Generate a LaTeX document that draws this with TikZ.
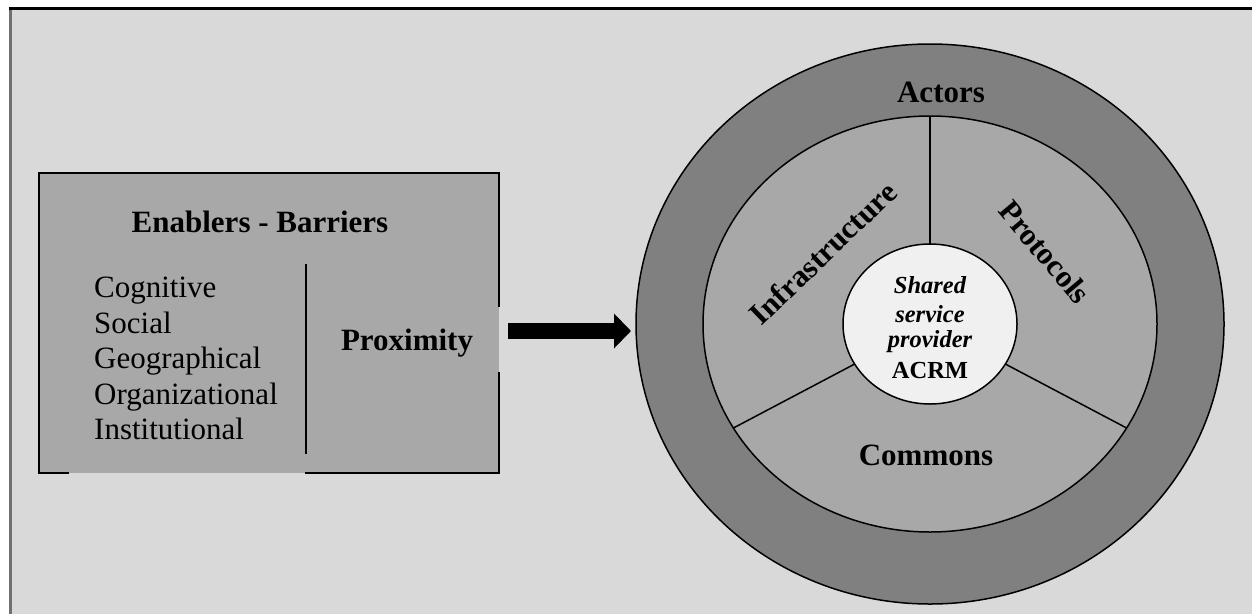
\documentclass[tikz,border=0pt]{standalone}
\usepackage{fontspec}
\setmainfont{Liberation Serif}
\usetikzlibrary{arrows.meta,shapes.geometric}
\definecolor{bgc}{HTML}{D9D9D9}
\definecolor{boxc}{HTML}{A8A8A8}
\definecolor{ringc}{HTML}{808080}
\definecolor{sectc}{HTML}{A8A8A8}
\definecolor{corec}{HTML}{F0F0F0}
\definecolor{edgec}{HTML}{707070}
\begin{document}
\begin{tikzpicture}[x=1pt,y=-1pt,
  lbl/.style={inner sep=0pt, font=\fontsize{31}{36}\selectfont},
  blbl/.style={inner sep=0pt, font=\fontsize{31}{36}\selectfont\bfseries},
  clbl/.style={inner sep=0pt, font=\fontsize{24.5}{28}\selectfont\bfseries},
  cilbl/.style={inner sep=0pt, font=\fontsize{24.5}{28}\selectfont\bfseries\itshape},
  oval/.style={ellipse, draw=black, line width=1.5pt, inner sep=0pt},
  outl/.style={draw=black, line width=1.5pt},
  boxedge/.style={draw=black, line width=2pt}]
\useasboundingbox (0,0) rectangle (1252,614);
\fill[white] (0,0) rectangle (1252,614);
\fill[bgc] (9,8) rectangle (1252,614);
\draw[line width=3pt] (9,8) -- (1252,8);
\draw[edgec, line width=3pt] (10.5,9.5) -- (10.5,614);

% left box
\fill[boxc] (39,173) rectangle (499,473);
\draw[boxedge] (69,473) -- (39,473) -- (39,173) -- (499,173) -- (499,307);
\draw[boxedge] (499,372) -- (499,473) -- (305,473);
\coordinate (sepT) at (306,264);
\coordinate (sepB) at (306,454);
\draw[line width=2.5pt] (sepT) -- (sepB);

\node[blbl, anchor=base] (eb) at (260,232) {Enablers - Barriers};
\node[lbl, anchor=base west] (cog) at (94,297) {Cognitive};
\node[lbl, anchor=base west] (soc) at (94,333) {Social};
\node[lbl, anchor=base west] (geo) at (94,368) {Geographical};
\node[lbl, anchor=base west] (org) at (94,404) {Organizational};
\node[lbl, anchor=base west] (ins) at (94,439) {Institutional};
\node[blbl, anchor=base] (prox) at (407,350) {Proximity};

% arrow
\coordinate (arrS) at (508,331);
\coordinate (arrE) at (631,331);
\draw[line width=16pt, -{Triangle[length=17pt,width=34pt]}] (arrS) -- (arrE);

% circle
\node[oval, fill=ringc, minimum width=588pt, minimum height=560pt] (outer) at (930,324) {};
\node[oval, fill=sectc, minimum width=454pt, minimum height=416pt] (inner) at (930,324) {};
\node[oval, fill=corec, minimum width=174pt, minimum height=160pt] (core) at (930,324) {};

\coordinate (i90) at (930,116);
\coordinate (i210) at (733.4,428);
\coordinate (i330) at (1126.6,428);
\coordinate (c90) at (930,244);
\coordinate (c210) at (854.7,364);
\coordinate (c330) at (1005.3,364);
\draw[outl] (i90) -- (c90);
\draw[outl] (i210) -- (c210);
\draw[outl] (i330) -- (c330);

\node[blbl, anchor=base] (act) at (941,102) {Actors};
\node[blbl, anchor=base] (com) at (926,465) {Commons};
\node[blbl, rotate=44] (inf) at (823,253) {Infrastructure};
\node[blbl, rotate=-50] (pro) at (1045,252) {Protocols};

\node[cilbl, anchor=base] (sh1) at (930,293) {Shared};
\node[cilbl, anchor=base] (sh2) at (930,322) {service};
\node[cilbl, anchor=base] (sh3) at (930,347) {provider};
\node[clbl, anchor=base] (sh4) at (930,378) {ACRM};
\end{tikzpicture}
\end{document}
